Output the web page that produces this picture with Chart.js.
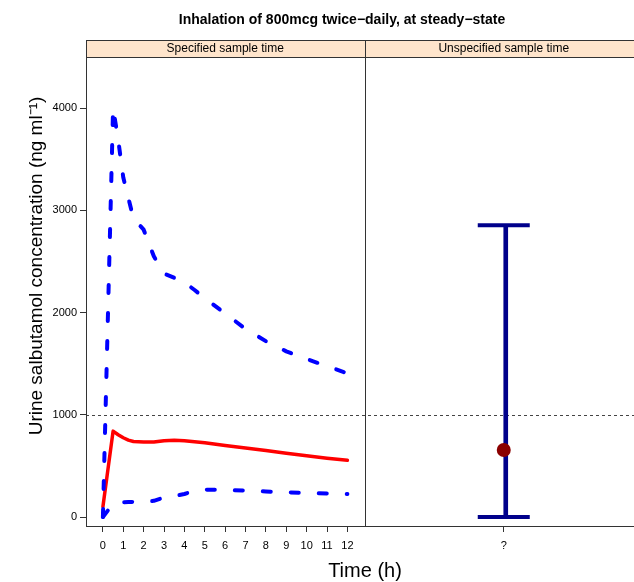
<!DOCTYPE html>
<html>
<head>
<meta charset="utf-8">
<script src="https://cdn.jsdelivr.net/npm/chart.js@4/dist/chart.umd.min.js"></script>
<style>
html, body { margin: 0; padding: 0; background: #fff; overflow: hidden; }
#wrap { width: 634px; height: 582px; overflow: hidden; }
canvas { display: block; }
</style>
</head>
<body>
<div id="wrap"><canvas id="chart" width="650" height="582"></canvas></div>
<script>
// left panel: specified sample time (h)
const times = [0, 0.5, 0.75, 1, 1.25, 1.5, 2, 2.5, 3, 3.5, 4, 4.5, 5, 6, 7, 8, 9, 10, 11, 12];
const median = [100, 840, 805, 775, 752, 738, 733, 733, 746, 750, 745, 737, 727, 700, 675, 650, 623, 598, 575, 555];
const upper = [0, 4000, 3690, 3320, 3120, 2920, 2810, 2550, 2380, 2340, 2295, 2220, 2140, 1990, 1840, 1720, 1620, 1545, 1475, 1405];
const lower = [0, 130, 140, 145, 147, 148, 150, 158, 190, 205, 225, 255, 268, 265, 258, 250, 242, 236, 230, 225];

// right panel: unspecified sample time
const rightLabels = ['?'];
const rightMedian = [655];
const rightLow = [0];
const rightHigh = [2854];

const xTicks = [0, 1, 2, 3, 4, 5, 6, 7, 8, 9, 10, 11, 12];
const yTicks = [0, 1000, 2000, 3000, 4000];
const refLevel = 1000;

const panelTitles = ['Specified sample time', 'Unspecified sample time'];
const mainTitle = 'Inhalation of 800mcg twice\u2212daily, at steady\u2212state';
const xTitle = 'Time (h)';
const yTitle = 'Urine salbutamol concentration (ng ml\u207B\u00B9)';

Chart.defaults.font.family = '"Liberation Sans", Arial, sans-serif';
Chart.defaults.color = '#000';

function pts(xs, ys) {
    return xs.map((x, i) => ({x: x, y: ys[i]}));
}

const decor = {
    id: 'decor',
    beforeDatasetsDraw(chart) {
        const {ctx, chartArea, scales} = chart;
        const ry = Math.round(scales.y.getPixelForValue(refLevel)) + 0.5;
        ctx.save();
        ctx.strokeStyle = '#444';
        ctx.lineWidth = 1;
        ctx.setLineDash([3, 3]);
        ctx.beginPath();
        ctx.moveTo(chartArea.left, ry);
        ctx.lineTo(chartArea.right, ry);
        ctx.stroke();
        ctx.restore();
    },
    afterDatasetsDraw(chart) {
        const {ctx, chartArea, scales} = chart;
        const y = scales.y;
        ctx.save();
        // error bar caps
        ctx.strokeStyle = '#00008B';
        ctx.lineWidth = 4;
        rightLabels.forEach((lab, i) => {
            const cx = scales.x2.getPixelForValue(i);
            [rightLow[i], rightHigh[i]].forEach(v => {
                const py = y.getPixelForValue(v);
                ctx.beginPath();
                ctx.moveTo(cx - 26, py);
                ctx.lineTo(cx + 26, py);
                ctx.stroke();
            });
        });
        // panel boxes and strips
        const top = Math.round(chartArea.top);
        [scales.x, scales.x2].forEach((s, i) => {
            const l = Math.round(s.left) + 0.5;
            const w = Math.round(s.width);
            ctx.fillStyle = '#FFE5CC';
            ctx.fillRect(l, top - 17, w, 17);
            ctx.strokeStyle = '#333';
            ctx.lineWidth = 1;
            ctx.strokeRect(l, top - 17 + 0.5, w, 17);
            ctx.strokeRect(l, top + 0.5, w, Math.round(chartArea.height));
            ctx.fillStyle = '#000';
            ctx.font = '12px "Liberation Sans", Arial, sans-serif';
            ctx.textAlign = 'center';
            ctx.textBaseline = 'middle';
            ctx.fillText(panelTitles[i], s.left + s.width / 2, top - 8);
        });
        // titles
        ctx.font = 'bold 14px "Liberation Sans", Arial, sans-serif';
        ctx.fillText(mainTitle, 342, 20);
        ctx.font = '20px "Liberation Sans", Arial, sans-serif';
        ctx.fillText(xTitle, 365, 571);
        ctx.translate(37, 266);
        ctx.rotate(-Math.PI / 2);
        ctx.font = '19px "Liberation Sans", Arial, sans-serif';
        ctx.fillText(yTitle, 0, 0);
        ctx.restore();
    }
};

const lineCommon = {
    type: 'line',
    xAxisID: 'x',
    borderWidth: 4,
    pointRadius: 0,
    tension: 0,
    borderCapStyle: 'round',
    borderJoinStyle: 'round'
};

const chart_config = {
    type: 'line',
    data: {
        datasets: [
            Object.assign({}, lineCommon, {
                data: pts(times, upper),
                borderColor: '#0000FF',
                borderDash: [8, 20]
            }),
            Object.assign({}, lineCommon, {
                data: pts(times, lower),
                borderColor: '#0000FF',
                borderDash: [8, 20]
            }),
            Object.assign({}, lineCommon, {
                data: pts(times, median),
                borderColor: '#FF0000',
                borderWidth: 3.5
            }),
            {
                type: 'bar',
                xAxisID: 'x2',
                data: rightLow.map((v, i) => [v, rightHigh[i]]),
                backgroundColor: '#00008B',
                barThickness: 4,
                order: 2
            },
            {
                type: 'line',
                xAxisID: 'x2',
                data: rightMedian.map((v, i) => ({x: rightLabels[i], y: v})),
                showLine: false,
                pointRadius: 7,
                pointBackgroundColor: '#8B0000',
                pointBorderWidth: 0,
                order: 0
            }
        ]
    },
    options: {
        responsive: false,
        animation: false,
        layout: {
            padding: {top: 57, left: 0, right: 0, bottom: 0}
        },
        scales: {
            x: {
                type: 'linear',
                position: 'bottom',
                stack: 'panels',
                stackWeight: 1,
                min: -0.83,
                max: 12.84,
                afterBuildTicks: s => { s.ticks = xTicks.map(v => ({value: v})); },
                afterFit: s => { s.height = 56; },
                ticks: {font: {size: 11}, padding: 7, maxRotation: 0, autoSkip: false},
                grid: {drawOnChartArea: false, tickLength: 6, color: '#333'},
                border: {display: false}
            },
            x2: {
                type: 'category',
                labels: rightLabels,
                position: 'bottom',
                stack: 'panels',
                stackWeight: 1,
                offset: true,
                afterFit: s => { s.height = 56; },
                ticks: {font: {size: 11}, padding: 7},
                grid: {drawOnChartArea: false, offset: false, tickLength: 6, color: '#333'},
                border: {display: false}
            },
            y: {
                min: -88,
                max: 4499,
                afterBuildTicks: s => { s.ticks = yTicks.map(v => ({value: v})); },
                afterFit: s => { s.width = 86; },
                ticks: {font: {size: 11}, padding: 3, callback: v => String(v)},
                grid: {drawOnChartArea: false, tickLength: 6, color: '#333'},
                border: {display: false}
            }
        },
        plugins: {
            legend: {display: false},
            tooltip: {enabled: false}
        }
    },
    plugins: [decor]
};

var chart = new Chart(
    document.getElementById('chart'),
    chart_config
);
</script>
</body>
</html>
